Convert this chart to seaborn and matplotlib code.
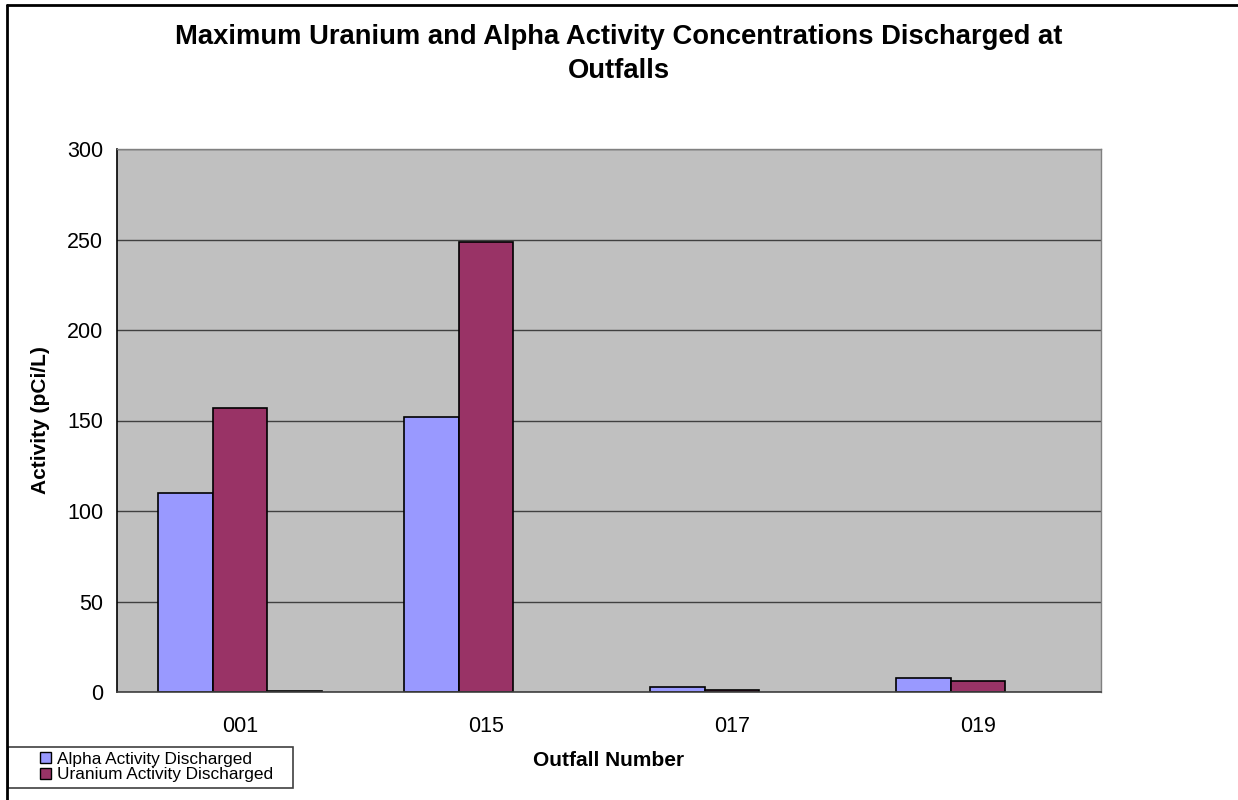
import pandas as pd
import numpy as np
import matplotlib
matplotlib.use("Agg")
import matplotlib.pyplot as plt
from matplotlib.patches import Patch, Rectangle
from matplotlib.lines import Line2D
import seaborn as sns

# data
outfalls = ["001", "015", "017", "019"]
alpha = [110, 152, 3, 8]
uranium = [157, 248.5, 1, 6]
other = [0.5, np.nan, np.nan, np.nan]  # hidden third series, only at 001
series = ["Alpha Activity Discharged", "Uranium Activity Discharged", "Other"]
colors = ["#9999FF", "#993366", "#FFFFCC"]
y_ticks = [0, 50, 100, 150, 200, 250, 300]

data = pd.DataFrame({
    "Outfall": outfalls * 3,
    "Series": [series[0]] * 4 + [series[1]] * 4 + [series[2]] * 4,
    "Activity": alpha + uranium + other,
})

sns.set_style("white")
plt.rcParams["font.family"] = ["Liberation Sans", "DejaVu Sans"]
plt.rcParams["text.color"] = "black"
plt.rcParams["axes.labelcolor"] = "black"
plt.rcParams["xtick.color"] = "black"
plt.rcParams["ytick.color"] = "black"

fig = plt.figure(figsize=(12.38, 8), dpi=100)
ax = fig.add_axes([117 / 1238, 108 / 800, 984 / 1238, 543 / 800])
ax.set_facecolor("#C0C0C0")

sns.barplot(
    data=data, x="Outfall", y="Activity", hue="Series",
    hue_order=series, order=outfalls, palette=colors, saturation=1,
    width=0.67, edgecolor="black", linewidth=1.2, ax=ax, legend=False,
)

ax.set_ylim(0, 300)
ax.set_xlim(-0.5, 3.5)
ax.set_yticks(y_ticks)
ax.yaxis.grid(True, color="#404040", linewidth=1)
ax.set_axisbelow(True)

# ticks at category boundaries, labels at centres
ax.set_xticks(np.arange(-0.5, 4, 1))
ax.set_xticklabels([])
ax.set_xticks(range(len(outfalls)), minor=True)
ax.set_xticklabels(outfalls, minor=True)
ax.tick_params(axis="x", which="major", direction="out", length=7, width=1, color="black")
ax.tick_params(axis="x", which="minor", length=0, pad=17, labelsize=15.5)
ax.tick_params(axis="y", direction="out", length=7, width=1, color="#404040", labelsize=15.5, pad=3)

for side in ["top", "right"]:
    ax.spines[side].set_color("#808080")
    ax.spines[side].set_linewidth(1)
ax.spines["left"].set_color("black")
ax.spines["bottom"].set_color("#404040")
ax.spines["left"].set_linewidth(1.2)
ax.spines["bottom"].set_linewidth(1.2)

ax.set_xlabel("Outfall Number", fontsize=15, fontweight="bold", labelpad=10)
ax.set_ylabel("Activity (pCi/L)", fontsize=15, fontweight="bold", labelpad=12)

fig.text(0.5, 1 - 54 / 800,
         "Maximum Uranium and Alpha Activity Concentrations Discharged at\nOutfalls",
         ha="center", va="center", fontsize=19.7, fontweight="bold", linespacing=1.45)

handles = [Patch(facecolor=colors[i], edgecolor="black", linewidth=1) for i in range(2)]
leg = fig.legend(handles, series[:2], loc="center left",
                 bbox_to_anchor=(40 / 1238, 1 - 767 / 800), fontsize=12.4,
                 frameon=False, handlelength=0.65, handleheight=0.65,
                 handletextpad=0.35, labelspacing=0.05, borderpad=0,
                 borderaxespad=0)

# legend frame
fig.add_artist(Rectangle((8 / 1238, 1 - 788 / 800), 285 / 1238, 41 / 800,
                         fill=False, edgecolor="#404040", lw=1.2, transform=fig.transFigure))

# chart frame (only top and left edges visible)
fig.add_artist(Line2D([7 / 1238, 7 / 1238], [0, 1 - 5 / 800], color="black", lw=2, transform=fig.transFigure))
fig.add_artist(Line2D([7 / 1238, 1], [1 - 5 / 800, 1 - 5 / 800], color="black", lw=2, transform=fig.transFigure))

fig.savefig("out.png", dpi=100)
